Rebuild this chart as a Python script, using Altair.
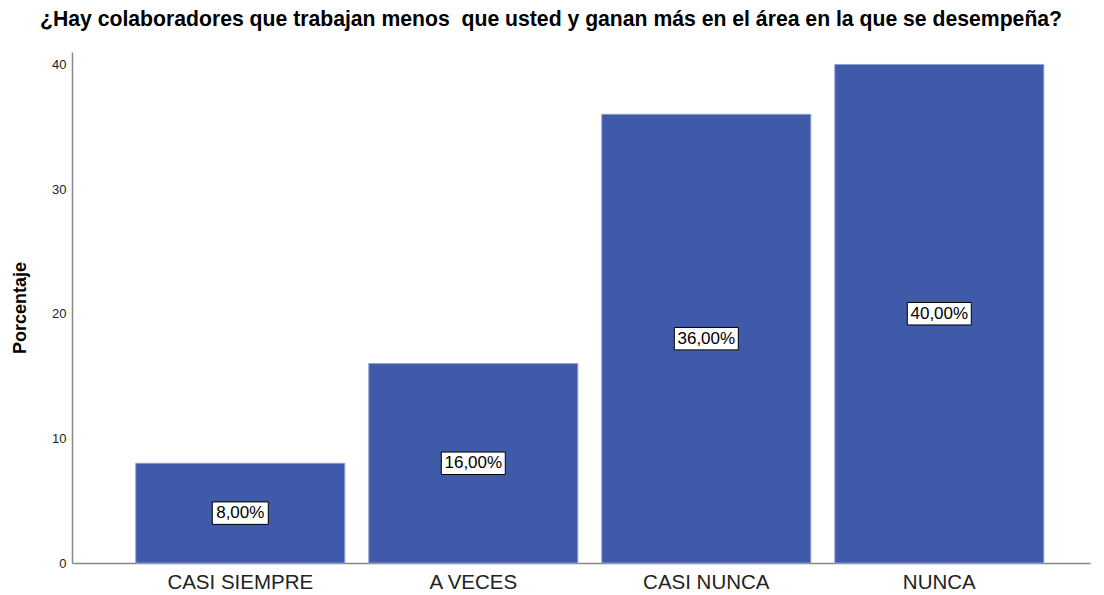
import altair as alt
import pandas as pd

categories = ["CASI SIEMPRE", "A VECES", "CASI NUNCA", "NUNCA"]
values = [8.0, 16.0, 36.0, 40.0]
labels = ["8,00%", "16,00%", "36,00%", "40,00%"]
y_ticks = [0, 10, 20, 30, 40]
title_text = "¿Hay colaboradores que trabajan menos\u00a0 que usted y ganan más en el área en la que se desempeña?"

df = pd.DataFrame({"cat": categories, "val": values, "lab": labels})

FONT = "Liberation Sans"
BAR = "#3F5AA8"

x_enc = alt.X(
    "cat:N",
    sort=categories,
    scale=alt.Scale(paddingInner=0.103, paddingOuter=0.236, align=0.58),
    axis=alt.Axis(
        title=None, labelAngle=0, labelFont=FONT, labelFontSize=20.5,
        labelColor="#222222", ticks=False, labelPadding=9,
        domainColor="#888888", domainWidth=1.5,
    ),
)
y_scale = alt.Scale(domain=[0, 41], nice=False)

bars = alt.Chart(df).mark_bar(
    color=BAR, stroke="#8EA0D4", strokeWidth=1
).encode(
    x=x_enc,
    y=alt.Y(
        "val:Q", scale=y_scale,
        axis=alt.Axis(
            title="Porcentaje", values=y_ticks, grid=False, ticks=False,
            labelFont=FONT, labelFontSize=13, labelColor="#222222", labelPadding=6,
            titleFont=FONT, titleFontSize=18, titleFontWeight="bold",
            titleColor="#000000", titlePadding=22,
            domainColor="#888888", domainWidth=1.5,
        ),
    ),
)

base = alt.Chart(df).transform_calculate(
    mid="datum.val / 2",
    lo="datum.val / 2 - 0.9",
    hi="datum.val / 2 + 0.9",
    n="length(datum.lab)",
)

box_short = base.transform_filter("datum.n <= 5").mark_bar(
    width=56, color="white", stroke="black", strokeWidth=1
).encode(
    x=alt.X("cat:N", sort=categories),
    y=alt.Y("lo:Q", scale=y_scale),
    y2="hi:Q",
)
box_long = base.transform_filter("datum.n > 5").mark_bar(
    width=64, color="white", stroke="black", strokeWidth=1
).encode(
    x=alt.X("cat:N", sort=categories),
    y=alt.Y("lo:Q", scale=y_scale),
    y2="hi:Q",
)
texts = base.mark_text(
    font=FONT, fontSize=17, color="black", baseline="middle", align="center"
).encode(
    x=alt.X("cat:N", sort=categories),
    y=alt.Y("mid:Q", scale=y_scale),
    text="lab:N",
)

chart = alt.layer(bars, box_short, box_long, texts).properties(
    width=1018,
    height=511,
    background="white",
    title=alt.TitleParams(
        title_text,
        font=FONT, fontSize=21.2, fontWeight="bold", color="#000000",
        anchor="start", frame="group", dx=-32, offset=22,
    ),
    padding={"left": 64, "top": 44, "right": 6, "bottom": 30},
    autosize=alt.AutoSizeParams(type="none"),
).configure_view(strokeWidth=0)

chart.save("out.html", embed_options={"renderer": "svg", "actions": False})
